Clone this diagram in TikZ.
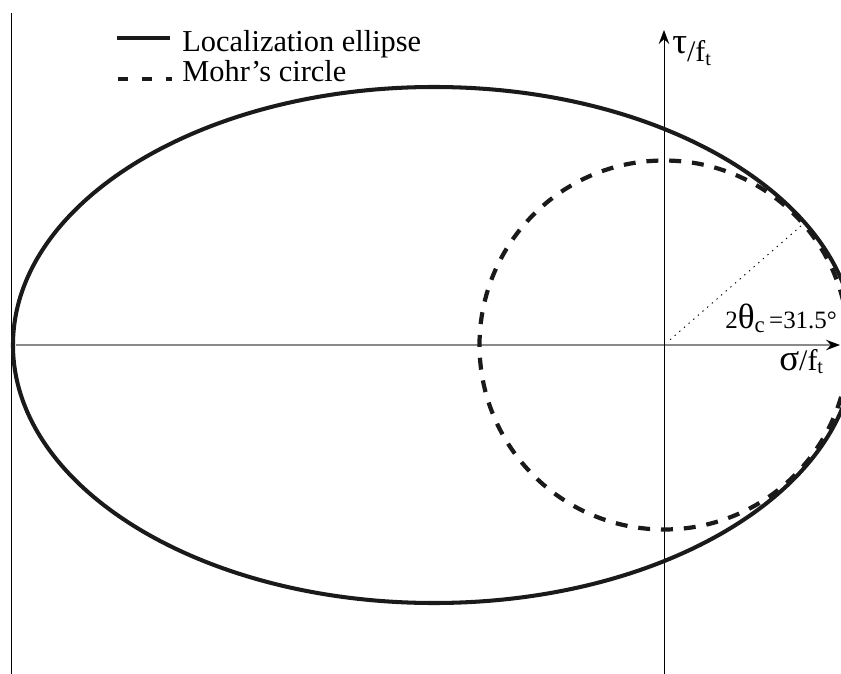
\documentclass[tikz,border=0pt]{standalone}
\usepackage{fontspec}
\setmainfont{Liberation Serif}
\usepackage{tikz}
\usetikzlibrary{arrows.meta}
\definecolor{inkblack}{HTML}{1A1A1A}
\definecolor{axisgray}{HTML}{8A8A8A}
\newcommand{\normft}{{\fontsize{17}{20}\selectfont /f}\raisebox{-2pt}{\fontsize{11.5}{13}\selectfont t}}
\tikzset{
  ellipseline/.style={draw=inkblack, line width=2.3pt},
  mohrline/.style={draw=inkblack, line width=2.4pt, dash pattern=on 6.8pt off 6.2pt, dash phase=0.8pt},
  axisline/.style={draw=black, line width=0.45pt},
  axistip/.style={-{Stealth[length=8pt, width=6pt, inset=2.8pt, color=black]}},
  anglerule/.style={draw=black, line width=0.5pt, dash pattern=on 0.8pt off 2.7pt},
  legendtext/.style={anchor=base west, inner sep=0pt, font=\fontsize{17.3}{20}\selectfont},
  axislabel/.style={anchor=base west, inner sep=0pt},
}

\begin{document}
\begin{tikzpicture}[x=0.02cm, y=0.02cm]
  \path[use as bounding box, clip] (-664,-328) rectangle (177,345);
  \coordinate (O) at (0,0);
  \coordinate (E) at (-230,0);
  \coordinate (sigend) at (176,0);
  \coordinate (sigstart) at (-648,0);
  \coordinate (tauend) at (0,315);
  \coordinate (taustart) at (0,-330);
  \coordinate (wallA) at (-653,332);
  \coordinate (wallB) at (-653,-330);
  \coordinate (rayA) at (41:8);
  \coordinate (rayB) at (41:183);

  \draw[axisline] (wallA) -- (wallB);
  \draw[axisline, draw=axisgray, line width=0.8pt, axistip] (sigstart) -- (sigend);
  \draw[axisline, axistip] (taustart) -- (tauend);

  \draw[ellipseline] (E) ellipse [x radius=421, y radius=258];
  \draw[mohrline] (O) circle [radius=184.5];
  \draw[anglerule] (rayA) -- (rayB);

  \node[axislabel] (taulab) at (8,283) {\raisebox{5pt}{\fontsize{21}{24}\selectfont τ}\normft};
  \node[axislabel] (siglab) at (115,-25) {{\fontsize{21}{24}\selectfont σ}\normft};
  \node[axislabel] (thetalab) at (61,17) {{\fontsize{14.2}{17}\selectfont 2}{\fontsize{20}{23}\selectfont θ}\raisebox{-2.8pt}{\fontsize{13}{15}\selectfont c} {\fontsize{14.2}{17}\selectfont =31.5°}};

  \coordinate (solidA) at (-547,307);
  \coordinate (solidB) at (-494,307);
  \coordinate (dashA) at (-546,266);
  \coordinate (dashB) at (-492,266);
  \draw[ellipseline] (solidA) -- (solidB);
  \draw[mohrline, dash pattern=on 5.7pt off 7.9pt, dash phase=0pt] (dashA) -- (dashB);
  \node[legendtext] (loclab) at (-482,293) {Localization ellipse};
  \node[legendtext] (mohrlab) at (-482,263) {Mohr’s circle};
\end{tikzpicture}
\end{document}
